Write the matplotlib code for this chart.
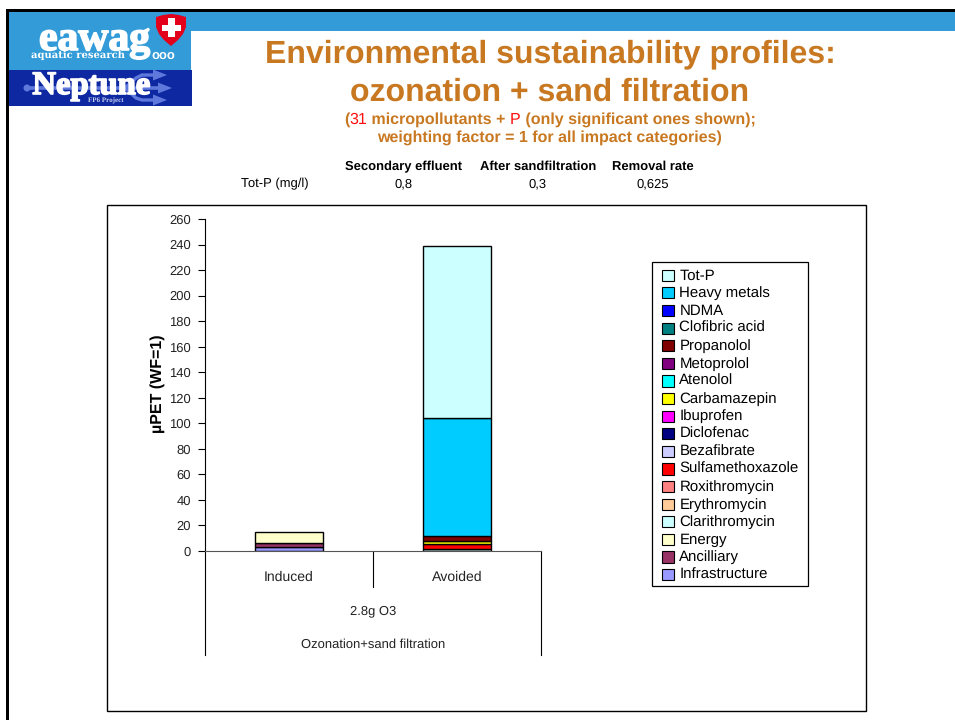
"""Slide: environmental sustainability profile of ozonation + sand filtration."""
import matplotlib
matplotlib.use("Agg")
import matplotlib.pyplot as plt
import matplotlib.patheffects as pe
from matplotlib.legend_handler import HandlerPatch
from matplotlib.patches import Circle, Patch, Polygon, Rectangle

plt.rcParams["font.family"] = ["Liberation Sans", "DejaVu Sans"]
plt.rcParams["text.hinting"] = "no_hinting"
plt.rcParams["text.hinting_factor"] = 1

W, H = 955, 720

categories = ["Induced", "Avoided"]
# stack order, bottom to top
series = ["Infrastructure", "Ancilliary", "Energy", "Clarithromycin", "Erythromycin",
          "Roxithromycin", "Sulfamethoxazole", "Bezafibrate", "Diclofenac", "Ibuprofen",
          "Carbamazepin", "Atenolol", "Metoprolol", "Propanolol", "Clofibric acid",
          "NDMA", "Heavy metals", "Tot-P"]
colors = ["#9999FF", "#993366", "#FFFFCC", "#CCFFFF", "#FFCC99",
          "#FF8080", "#FF0000", "#CCCCFF", "#000080", "#FF00FF",
          "#FFFF00", "#00FFFF", "#800080", "#800000", "#008080",
          "#0000FF", "#00CCFF", "#CCFFFF"]
induced = [3.2, 2.8, 8.9, 0, 0, 0, 0, 0, 0, 0, 0, 0, 0, 0, 0, 0, 0, 0]
avoided = [0, 0, 0, 1.5, 0, 0, 4.0, 0, 0, 0, 2.0, 0, 0, 4.0, 0, 0, 93.0, 134.0]
yticks = list(range(0, 261, 20))

table_head = ["Secondary effluent", "After sandfiltration", "Removal rate"]
table_row = ["0,8", "0,3", "0,625"]

ORANGE = "#C87820"
RED = "#FF1010"
LOGO_ARROW = "#5F78DC"
INK = "#222222"


def legend_swatch(legend, orig_handle, xdescent, ydescent, width, height, fontsize):
    # small square flush with the right of the handle slot
    return Rectangle((width - xdescent - 8, -ydescent - 1), 8, 8)


fig = plt.figure(figsize=(W / 100, H / 100), dpi=100, facecolor="white")

# slide furniture in pixel coordinates
bg = fig.add_axes([0, 0, 1, 1])
bg.set_xlim(0, W)
bg.set_ylim(H, 0)
bg.axis("off")
bg.add_patch(Rectangle((9, 12), W - 9, 19, color="#339CD8", lw=0))
bg.add_patch(Rectangle((6, 9), W - 6, 3, color="black", lw=0))
bg.add_patch(Rectangle((6, 9), 3, H - 9, color="black", lw=0))
bg.add_patch(Rectangle((9, 12), 182, 58, color="#339CD8", lw=0))
bg.add_patch(Rectangle((9, 70), 183, 36, color="#0D28A0", lw=0))

# eawag logo
heavy = [pe.withStroke(linewidth=1.2, foreground="white")]
bg.text(95, 50, "eawag", color="white", fontsize=30, fontweight="bold",
        family="Liberation Serif", ha="center", va="baseline", path_effects=heavy)
bg.text(78, 55.5, "aquatic research", color="white", fontsize=7.4, fontweight="bold",
        family="DejaVu Serif", ha="center", va="center")
bg.text(163.5, 55.5, "ooo", color="white", fontsize=9.5, fontweight="bold", ha="center", va="center")
bg.add_patch(Polygon([(156, 17), (163, 15), (171, 14), (179, 15), (186, 17), (186, 27), (183, 34),
                      (178, 40), (171, 46), (164, 40), (159, 34), (156, 27)],
                     color="#E2001A", lw=0))
bg.add_patch(Rectangle((168, 18), 6.5, 19, color="white", lw=0))
bg.add_patch(Rectangle((162, 24.5), 18.5, 6.5, color="white", lw=0))

# Neptune logo: trident arrow behind the wordmark
bg.add_patch(Circle((27, 88), 3.5, color=LOGO_ARROW, lw=0))
bg.plot([27, 162], [88, 88], color=LOGO_ARROW, lw=2.6, solid_capstyle="butt")
bg.plot([125, 136, 142, 157], [88, 78, 75, 75], color=LOGO_ARROW, lw=2.4, solid_joinstyle="round")
bg.plot([125, 136, 142, 157], [88, 98, 100, 100], color=LOGO_ARROW, lw=2.4, solid_joinstyle="round")
for xa, ya in [(157, 75), (162, 88), (157, 100)]:
    bg.add_patch(Polygon([(xa - 4, ya - 5.5), (xa + 10, ya), (xa - 4, ya + 5.5)],
                         color=LOGO_ARROW, lw=0))
bg.text(92, 94, "Neptune", color="white", fontsize=23.5, fontweight="bold",
        family="Liberation Serif", ha="center", va="baseline", path_effects=heavy)
bg.text(106, 100.5, "FP6 Project", color="#C8D0F0", fontsize=5.4, fontweight="bold",
        family="Liberation Serif", ha="center", va="center")

# headings
bg.text(550, 62, "Environmental sustainability profiles:", color=ORANGE, fontsize=23,
        fontweight="bold", ha="center", va="baseline")
bg.text(550, 101, "ozonation + sand filtration", color=ORANGE, fontsize=23,
        fontweight="bold", ha="center", va="baseline")

renderer = fig.canvas.get_renderer()
cursor = 344
for piece, col, weight in [("(", ORANGE, "bold"), ("31", RED, "normal"),
                           (" micropollutants + ", ORANGE, "bold"), ("P", RED, "normal"),
                           (" (only significant ones shown);", ORANGE, "bold")]:
    bg.text(cursor, 123.5, piece, color=col, fontsize=11.5, fontweight=weight,
            ha="left", va="baseline")
    # trailing blanks are not measured reliably, so measure with a stop character
    probe = bg.text(0, 0, piece + "|", fontsize=11.5, fontweight=weight)
    stop = bg.text(0, 0, "|", fontsize=11.5, fontweight=weight)
    cursor += (probe.get_window_extent(renderer).width - stop.get_window_extent(renderer).width)
    probe.remove()
    stop.remove()
bg.text(549.5, 142, "weighting factor = 1 for all impact categories)", color=ORANGE,
        fontsize=11.5, fontweight="bold", ha="center", va="baseline")

# Tot-P table
for x, head, val in zip([404, 538, 652.5], table_head, table_row):
    bg.text(x, 170, head, fontsize=9.6, fontweight="bold", ha="center", va="baseline")
    bg.text(x, 187.5, val, fontsize=9.6, ha="center", va="baseline")
bg.text(275, 187.5, "Tot-P (mg/l)", fontsize=9.6, ha="center", va="baseline")

# chart frame, legend frame and multi-level category axis
bg.add_patch(Rectangle((107, 205), 759, 506, fc="white", ec="black", lw=1))
bg.add_patch(Rectangle((652, 262), 156, 324, fc="white", ec="black", lw=0.9))
for x, y1 in [(205, 655), (373, 587), (541, 655)]:
    bg.plot([x, x], [551, y1], color="black", lw=0.8)
bg.text(373.5, 610.5, "2.8g O3", fontsize=9.6, ha="center", va="center", color=INK)
bg.text(373.5, 645, "Ozonation+sand filtration", fontsize=9.6, ha="center", va="center", color=INK)

ax = fig.add_axes([205 / W, 1 - 551 / H, 336 / W, 332 / H])
ax.patch.set_alpha(0)
ax.set_xlim(0, 2)
ax.set_ylim(0, 260)
for s in ["top", "right"]:
    ax.spines[s].set_visible(False)
ax.spines["left"].set_linewidth(0.8)
ax.spines["bottom"].set_linewidth(0.8)
ax.spines["bottom"].set_color("#555555")

for xpos, vals in zip([0.5, 1.5], [induced, avoided]):
    base = 0
    for val, col in zip(vals, colors):
        if val > 0:
            ax.bar(xpos, val, 0.4, bottom=base, color=col, edgecolor="black", linewidth=1)
            base += val

ax.set_yticks(yticks)
ax.tick_params(axis="y", length=5, width=0.8, labelsize=9.6, pad=5, labelcolor=INK)
ax.set_xticks([0.5, 1.5], categories)
ax.tick_params(axis="x", length=0, labelsize=10.2, pad=14, labelcolor=INK)
ax.set_ylabel("µPET (WF=1)", fontsize=11.2, fontweight="bold")
ax.yaxis.set_label_coords(-0.119, 0.503)

handles = [Patch(facecolor=c, edgecolor="black", linewidth=0.8, label=n)
           for n, c in zip(series, colors)]
leg = ax.legend(handles=handles[::-1], loc="upper left", fontsize=11.1,
                bbox_to_anchor=(652 / W, 1 - 264 / H), bbox_transform=fig.transFigure,
                frameon=False, borderaxespad=0, borderpad=0.3, labelspacing=0.235,
                handlelength=1.1, handleheight=0.7, handletextpad=0.37,
                handler_map={Patch: HandlerPatch(patch_func=legend_swatch)})

fig.savefig("out.png", dpi=100)
